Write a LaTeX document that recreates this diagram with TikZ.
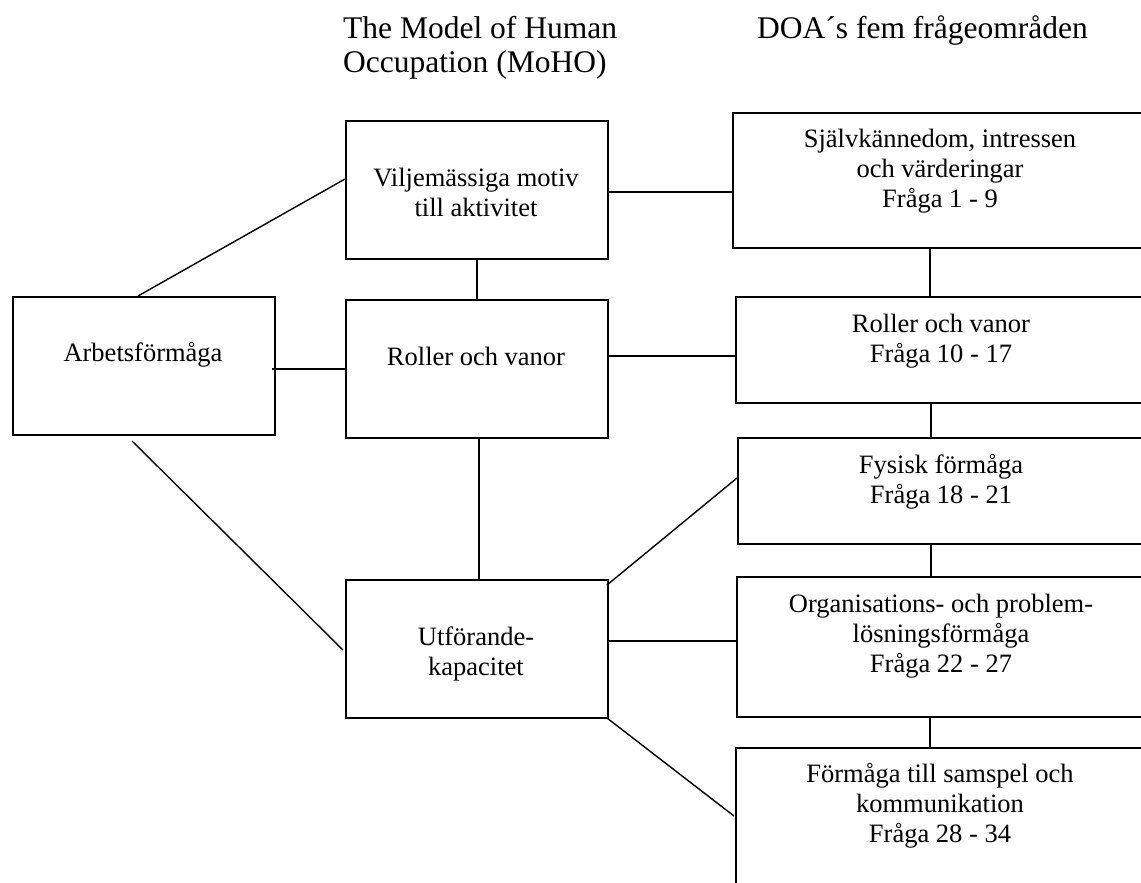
\documentclass[tikz,border=0pt]{standalone}
\usepackage{fontspec}
\setmainfont{Liberation Serif}
\usetikzlibrary{calc}
\tikzset{
  box/.style={draw, line width=1.6pt, inner sep=0pt, anchor=north west},
  txt/.style={inner sep=0pt, align=center, anchor=base, font=\fontsize{26.5}{30}\selectfont},
  head/.style={inner sep=0pt, align=left, anchor=base west, font=\fontsize{31.5}{33.5}\selectfont},
  conn/.style={line width=1.4pt}
}
\newcommand{\mkbox}[5]{\node[box, minimum width=#4-#2, minimum height=#5-#3] (#1) at (#2,#3) {};}
\begin{document}
\begin{tikzpicture}[x=1pt,y=-1pt]
\useasboundingbox (0,0) rectangle (1141,883);
\clip (0,0) rectangle (1141,883);
% headers (anchor = baseline of the last line)
\node[head] (h1) at (343,72.5) {The Model of Human\\Occupation (MoHO)};
\node[head] (h2) at (757,39) {DOA´s fem frågeområden};
% boxes
\mkbox{arb}{12}{296}{274}{434}
\mkbox{vil}{345}{120}{607}{258}
\mkbox{rol}{345}{299}{607}{437}
\mkbox{utf}{345}{579}{607}{717}
\mkbox{sja}{732}{112}{1147}{247}
\mkbox{rov}{735}{296}{1147}{402}
\mkbox{fys}{737}{437}{1147}{543}
\mkbox{org}{736}{576}{1147}{716}
\mkbox{frm}{735}{747}{1147}{920}
% texts (anchor = baseline of the last line)
\node[txt] (tarb) at (143,361) {Arbetsförmåga};
\node[txt] (tvil) at (476,216) {Viljemässiga motiv\\till aktivitet};
\node[txt] (trol) at (476,365) {Roller och vanor};
\node[txt] (tutf) at (476,675) {Utförande-\\kapacitet};
\node[txt] (tsja) at (940,207) {Självkännedom, intressen\\och värderingar\\Fråga 1 - 9};
\node[txt] (trov) at (941,362) {Roller och vanor\\Fråga 10 - 17};
\node[txt] (tfys) at (941,503) {Fysisk förmåga\\Fråga 18 - 21};
\node[txt] (torg) at (941,672) {Organisations- och problem-\\lösningsförmåga\\Fråga 22 - 27};
\node[txt] (tfrm) at (940,842) {Förmåga till samspel och\\kommunikation\\Fråga 28 - 34};
% connector end points
\coordinate (a1) at (138,296);
\coordinate (a2) at (345,179);
\coordinate (b1) at (272,369);
\coordinate (c1) at (132,441);
\coordinate (c2) at (343,650);
\coordinate (u1) at (607,585);
\coordinate (f1) at (737,478);
\coordinate (u2) at (607,718);
\coordinate (m1) at (734,816);
% connectors
\draw[conn] (a1) -- (a2);
\draw[conn] (b1) -- (b1 -| rol.west);
\draw[conn] (c1) -- (c2);
\draw[conn] (vil.south) -- (vil.south |- rol.north);
\draw[conn] ($(rol.south)+(2,0)$) -- ($(rol.south |- utf.north)+(2,0)$);
\draw[conn] ($(vil.east)+(0,2)$) -- ($(vil.east -| sja.west)+(0,2)$);
\draw[conn] ($(rol.east)+(0,-13)$) -- ($(rol.east -| rov.west)+(0,-13)$);
\draw[conn] ($(utf.east)+(0,-8)$) -- ($(utf.east -| org.west)+(0,-8)$);
\draw[conn] (u1) -- (f1);
\draw[conn] (u2) -- (m1);
\draw[conn] (sja.south -| 930,0) -- (rov.north -| 930,0);
\draw[conn] (rov.south -| 931,0) -- (fys.north -| 931,0);
\draw[conn] (fys.south -| 931,0) -- (org.north -| 931,0);
\draw[conn] (org.south -| 930,0) -- (frm.north -| 930,0);
\end{tikzpicture}
\end{document}
